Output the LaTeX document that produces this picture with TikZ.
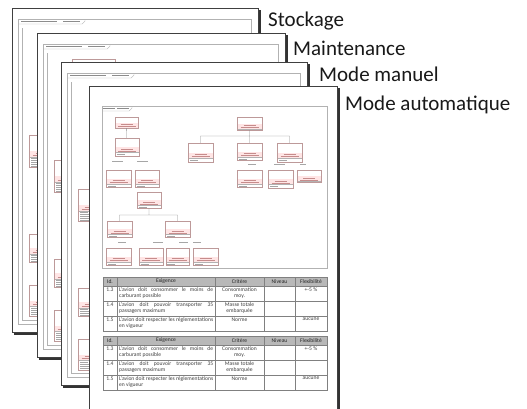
\documentclass[tikz,border=0pt]{standalone}
\usepackage{fontspec}
\setmainfont{Carlito}
\usepackage{tikz}
\usetikzlibrary{positioning}
\hyphenpenalty=10000
\exhyphenpenalty=10000
\tikzstyle{page}=[draw=black!75, fill=white, line width=0.7pt]
\tikzstyle{pageshadow}=[fill=black!80]
\tikzstyle{frame}=[draw=black!30, line width=0.35pt]
\tikzstyle{tabtext}=[draw=black!45, line width=0.8pt]
\tikzstyle{link}=[draw=black!45, line width=0.35pt]
\tikzstyle{role}=[draw=black!35, line width=0.7pt]
\tikzstyle{tablegrid}=[draw=black!50, line width=0.35pt]
\tikzstyle{classbox}=[draw=red!35!black!40, fill=white, line width=0.35pt, minimum width=25pt, inner sep=0pt,
  path picture={\begin{scope}[shift={(path picture bounding box.north)}, x=1pt, y=-1pt]
    \fill[red!10] (-30,0) rectangle (30,5.5);
    \draw[red!50!black!45, line width=0.45pt] (-6,1.8) -- (6,1.8) (-9,3.8) -- (9,3.8);
    \draw[black!30, line width=0.25pt] (-30,5.5) -- (30,5.5);
    \foreach \k in {0,...,12}
      \draw[black!35, line width=0.4pt] (-10.5,{7.5+2*\k}) -- ++({8+mod(\k*7,11)},0);
  \end{scope}}]
\tikzstyle{pagelabel}=[font=\fontsize{21}{25}\selectfont, text=black!90, inner sep=0pt]
\tikzstyle{cell}=[font=\fontsize{5.6}{6.2}\selectfont, text=black!75, inner sep=0pt]
\begin{document}
\begin{tikzpicture}[x=1pt, y=-1pt]
      \fill[white] (0,0) rectangle (527,408);
      \useasboundingbox (0,0) rectangle (527,408);
      % pages behind
      \foreach \L/\T/\R/\B/\n in {12/8/258/332/1, 37/33/285/357/2, 61/62/307/385/3} {
        \fill[pageshadow] (\L+2,\T+2) rectangle (\R+2.5,\B+2.5);
        \draw[page] (\L,\T) rectangle (\R,\B);
        \draw[frame] (\L+6,\T+11) rectangle (\R-7,\B-8);
        \draw[frame] (\L+10,\T+20) -- (\L+10,\B-12) -- (\R-11,\B-12);
        \draw[tabtext] (\L+9,\T+13.5) -- (\L+45,\T+13.5) (\L+51,\T+13.5) -- (\L+68,\T+13.5);
        \draw[frame] (\L+6,\T+16) -- (\L+70,\T+16) -- (\L+73,\T+13) -- (\L+73,\T+11);
        \node[classbox, minimum width=43pt, minimum height=14pt, anchor=north west] (p\n-top) at (\L+35,\T+26) {};
        \node[classbox, minimum height=32pt, anchor=north west] (p\n-boxa) at (\L+17,\T+127) {};
        \node[classbox, minimum height=28pt, anchor=north west] (p\n-boxb) at (\L+17,\T+226) {};
        \node[classbox, minimum height=31pt, anchor=north west] (p\n-boxc) at (\L+17,\T+277) {};
      }
      % front page
      \fill[pageshadow] (91,88) rectangle (339.5,414);
      \draw[page] (89,86) rectangle (337,412);
      \draw[frame] (102,106) rectangle (327,268);
      \draw[tabtext, line width=0.6pt] (103,108.5) -- (115,108.5) (117,108.5) -- (129,108.5);
      \draw[frame] (102,111) -- (129,111) -- (132,108) -- (132,106);
      % left tree
      \node[classbox, minimum width=23pt, minimum height=11pt] (a1) at (126.5,122.5) {};
      \node[classbox, minimum width=24pt, minimum height=18pt] (b1) at (127,147) {};
      \node[classbox, minimum height=17pt] (c1) at (118.5,178.5) {};
      \node[classbox, minimum width=24pt, minimum height=17pt] (d1) at (147,178.5) {};
      \node[classbox, minimum width=24pt, minimum height=16pt] (e1) at (149,200) {};
      \node[classbox, minimum height=16pt] (f1) at (119.5,229) {};
      \node[classbox, minimum height=16pt] (g1) at (177.5,229) {};
      \node[classbox, minimum height=17pt] (h1) at (118.5,256.5) {};
      \node[classbox, minimum width=24pt, minimum height=17pt] (i1) at (151,256.5) {};
      \node[classbox, minimum width=23pt, minimum height=17pt] (j1) at (177.5,256.5) {};
      \node[classbox, minimum height=17pt] (k1) at (205.5,256.5) {};
      % right tree
      \node[classbox, minimum height=13pt] (r1) at (249.5,123.5) {};
      \node[classbox, minimum height=19pt] (s1) at (200.5,152.5) {};
      \node[classbox, minimum height=17pt] (s2) at (249.5,151.5) {};
      \node[classbox, minimum height=19pt] (s3) at (289.5,152.5) {};
      \node[classbox, minimum height=17pt] (t1) at (249.5,178.5) {};
      \node[classbox, minimum height=18pt] (t2) at (280.5,179) {};
      \node[classbox, minimum width=24pt, minimum height=12pt] (t3) at (309,176) {};
      \coordinate (bar1) at (149,215);
      \coordinate (bar2) at (249.5,136);
      \path [link]
      (a1) -- (b1)
      (e1.south) -- (bar1)
      (f1.north) |- (bar1) -| (g1.north)
      (r1.south) -- (bar2)
      (s1.north) |- (bar2) -| (s3.north)
      (bar2) -- (s2.north);
      % role names
      \draw[role] (112,161) -- (123,161) (137,161) -- (148,161)
                  (118,242) -- (126,242) (153,242) -- (163,242) (179,242) -- (188,242) (193,242) -- (201,242)
                  (248,164) -- (256,164) (274,164) -- (285,164) (300,164) -- (306,164);
      % tables
      \foreach \ty [count=\tn] in {277,336} {
        \begin{scope}[shift={(0,\ty)}]
          \fill[black!28] (103,0) rectangle (327,9);
          \draw[tablegrid] (103,0) rectangle (327,54);
          \foreach \ry in {9,24,39} \draw[tablegrid] (103,\ry) -- (327,\ry);
          \foreach \cx in {117,215,264,295} \draw[tablegrid] (\cx,0) -- (\cx,54);
          \node[cell, text=black!85] (t\tn-hid) at (110,4.5) {Id.};
          \node[cell, text=black!85] (t\tn-hex) at (166,4.5) {Exigence};
          \node[cell, text=black!85] (t\tn-hcr) at (239.5,4.5) {Critère};
          \node[cell, text=black!85] (t\tn-hni) at (279.5,4.5) {Niveau};
          \node[cell, text=black!85] (t\tn-hfl) at (311,4.5) {Flexibilité};
          \node[cell, anchor=north] (t\tn-id1) at (110,10.5) {1.3};
          \node[cell, anchor=north west, text width=94pt, align=justify] (t\tn-ex1) at (119,10.5) {L'avion doit consommer le moins de carburant possible};
          \node[cell, anchor=north, align=center] (t\tn-cr1) at (239.5,10.5) {Consommation\\moy.};
          \node[cell, anchor=north] (t\tn-fl1) at (311,10.5) {+-5 \%};
          \node[cell, anchor=north] (t\tn-id2) at (110,25.5) {1.4};
          \node[cell, anchor=north west, text width=94pt, align=justify] (t\tn-ex2) at (119,25.5) {L'avion doit pouvoir transporter 35 passagers maximum};
          \node[cell, anchor=north, align=center] (t\tn-cr2) at (239.5,25.5) {Masse totale\\embarquée};
          \node[cell, anchor=north] (t\tn-id3) at (110,40.5) {1.5};
          \node[cell, anchor=north west, text width=94pt, align=justify] (t\tn-ex3) at (119,40.5) {L'avion doit respecter les réglementations en vigueur};
          \node[cell, anchor=north] (t\tn-cr3) at (239.5,40.5) {Norme};
          \node[cell, anchor=north] (t\tn-fl3) at (311,40.5) {aucune};
        \end{scope}
      }
      % labels
      \node[pagelabel, anchor=base west] (stock) at (268,26.5) {Stockage};
      \node[pagelabel, anchor=base west] (maint) at (293,55) {Maintenance};
      \node[pagelabel, anchor=base west] (manuel) at (319,81.7) {Mode manuel};
      \node[pagelabel, anchor=base west] (auto) at (345,110) {Mode automatique};
    \end{tikzpicture}
\end{document}
